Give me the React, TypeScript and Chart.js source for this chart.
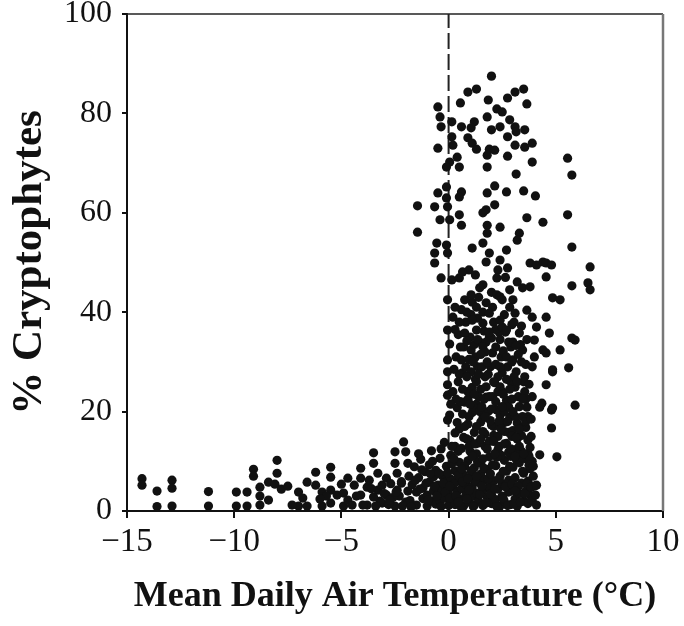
import React, { useEffect, useRef } from "react";
import { Chart, registerables } from "chart.js";

Chart.register(...registerables);

// [temperature °C, % cryptophytes]
const coldPoints: [number, number][] = [
  [-14.3, 6.5], [-14.3, 5.2], [-13.6, 4.0], [-13.6, 0.9], [-12.9, 6.2], [-12.9, 4.6], [-12.9, 1.0],
  [-11.2, 3.9], [-11.2, 1.0], [-9.9, 3.8], [-9.9, 1.0], [-9.4, 3.8], [-9.4, 1.0], [-9.1, 8.4], [-9.1, 7.0],
  [-8.8, 4.8], [-8.8, 3.0], [-8.8, 1.2], [-8.4, 5.8], [-8.4, 2.2], [-8.0, 10.2], [-8.0, 7.6], [-8.1, 5.4],
  [-7.8, 4.4], [-7.0, 3.8], [-7.0, 1.0], [-6.6, 5.8], [-6.6, 1.0], [-6.2, 7.8], [-6.2, 5.2], [-5.9, 3.8],
  [-5.9, 1.0], [-5.5, 8.8], [-5.5, 6.8], [-5.5, 4.2], [-5.5, 1.6], [-5.2, 3.2], [-4.9, 3.6], [-4.9, 1.0],
  [-4.7, 6.6], [-4.7, 2.2], [-4.4, 5.2], [-4.1, 8.6], [-4.1, 6.6], [-4.1, 3.2], [-3.8, 4.8], [-3.8, 1.2],
  [-3.5, 11.7], [-3.5, 9.6], [-3.3, 7.6], [-3.3, 4.2], [-3.1, 5.2], [-3.1, 1.6], [-2.9, 6.6], [-2.9, 3.2],
  [-2.5, 11.9], [-2.5, 9.6], [-2.5, 1.0], [-2.4, 7.6], [-2.4, 4.2], [-2.2, 5.6], [-2.1, 13.9], [-2.0, 11.9],
  [-1.9, 9.6], [-2.3, 3.0], [-2.2, 5.9], [-2.0, 1.8], [-1.9, 4.0], [-2.6, 2.7], [-2.7, 5.5], [-2.8, 1.3],
  [-3.0, 3.5], [-3.2, 2.0], [-3.5, 2.8], [-3.7, 6.2], [-4.3, 3.0], [-4.5, 1.2], [-5.0, 5.4], [-5.7, 3.0],
  [-6.0, 2.4], [-6.8, 2.6], [-7.3, 1.2], [-7.5, 5.0], [-4.0, 1.2], [-2.45, 3.8], [-2.15, 1.0],
  [-1.85, 7.0], [-2.75, 2.2], [-3.4, 1.0], [-3.6, 4.5],
];

const densePoints: [number, number][] = [
  [-1.8, 2.1], [-1.7, 5.3], [-1.6, 8.9], [-1.5, 1.2], [-1.5, 3.8], [-1.4, 6.7], [-1.3, 10.4], [-1.2, 2.5],
  [-1.2, 4.6], [-1.1, 7.9], [-1.0, 1.0], [-1.0, 3.2], [-0.9, 5.8], [-0.9, 9.3], [-0.8, 12.1], [-0.8, 2.0],
  [-0.7, 4.1], [-0.7, 6.9], [-0.6, 1.4], [-0.6, 8.2], [-0.5, 3.5], [-0.5, 5.2], [-0.4, 10.6], [-0.4, 1.9],
  [-0.3, 4.4], [-0.3, 7.1], [-0.2, 2.6], [-0.2, 13.8], [-0.1, 5.9], [-0.1, 9.0], [0.0, 1.1], [0.0, 3.4],
  [0.1, 6.4], [0.1, 11.2], [0.2, 2.2], [0.2, 4.8], [0.3, 8.1], [0.3, 1.3], [0.4, 3.9], [0.4, 6.0],
  [0.5, 9.8], [0.5, 2.4], [0.6, 12.6], [0.6, 4.5], [0.7, 1.0], [0.7, 7.3], [0.8, 3.1], [0.8, 5.4],
  [0.9, 10.1], [0.9, 1.8], [1.0, 6.6], [1.0, 14.2], [1.1, 2.9], [1.1, 4.9], [1.2, 8.7], [1.2, 1.2],
  [1.3, 3.6], [1.3, 11.5], [1.4, 5.8], [1.4, 2.0], [1.5, 7.4], [1.5, 9.6], [1.6, 1.1], [1.6, 4.2],
  [1.7, 6.3], [1.7, 13.0], [1.8, 2.7], [1.8, 8.4], [1.9, 4.8], [1.9, 10.9], [2.0, 1.5], [2.0, 3.3],
  [2.1, 6.1], [2.1, 15.2], [2.2, 2.3], [2.2, 9.1], [2.3, 4.4], [2.3, 12.3], [2.4, 1.0], [2.4, 7.0],
  [2.5, 3.0], [2.5, 5.5], [2.6, 10.2], [2.6, 1.9], [2.7, 8.0], [2.7, 13.6], [2.8, 3.8], [2.8, 6.2],
  [2.9, 1.3], [2.9, 11.0], [3.0, 4.5], [3.0, 8.8], [3.1, 2.4], [3.1, 6.7], [3.2, 14.5], [3.2, 1.0],
  [3.3, 3.5], [3.3, 9.7], [3.4, 5.6], [3.4, 12.0], [3.5, 2.0], [3.5, 7.6], [3.6, 4.0], [3.6, 10.5],
  [3.7, 1.5], [3.7, 6.0], [3.8, 3.2], [3.8, 8.5], [3.9, 2.1], [4.0, 5.0], [4.1, 1.2],
  [-1.75, 0.8], [-1.55, 6.2], [-1.35, 4.4], [-1.25, 8.3], [-1.05, 5.6], [-0.95, 2.2], [-0.75, 10.0],
  [-0.65, 5.0], [-0.55, 3.0], [-0.45, 7.6], [-0.35, 0.9], [-0.25, 5.6], [-0.15, 3.8], [-0.05, 7.7],
  [0.05, 2.6], [0.15, 9.5], [0.25, 5.5], [0.35, 3.0], [0.45, 7.2], [0.55, 1.0], [0.65, 5.9], [0.75, 9.0],
  [0.85, 2.4], [0.95, 4.2], [1.05, 8.1], [1.15, 0.9], [1.25, 6.0], [1.35, 9.9], [1.45, 3.3], [1.55, 5.0],
  [1.65, 8.6], [1.75, 1.6], [1.85, 6.5], [1.95, 3.4], [2.05, 9.3], [2.15, 4.5], [2.25, 0.9], [2.35, 6.4],
  [2.45, 11.2], [2.55, 2.5], [2.65, 4.9], [2.75, 1.1], [2.85, 9.0], [2.95, 5.4], [3.05, 1.4], [3.15, 10.4],
  [3.25, 5.0], [3.35, 1.8], [3.45, 8.0], [3.55, 3.5], [3.65, 5.5], [3.75, 9.2], [3.85, 4.8], [3.95, 7.0],
  [0.3, 13.0], [0.5, 16.5], [0.7, 14.8], [0.9, 17.5], [1.0, 12.0], [1.2, 15.8], [1.4, 13.7], [1.5, 17.9],
  [1.7, 15.5], [1.9, 14.0], [2.1, 17.0], [2.3, 15.0], [2.4, 19.2], [2.6, 17.8], [2.8, 15.8], [3.0, 16.2],
  [3.2, 12.5], [3.4, 15.2], [3.6, 16.8], [3.8, 12.8],
  [0.05, 5.0], [0.25, 10.5], [0.45, 1.8], [0.6, 8.5], [0.9, 6.5], [1.1, 11.0], [1.3, 7.0], [1.6, 10.5],
  [1.95, 7.5], [2.25, 10.8], [2.55, 8.0], [2.8, 11.8], [3.1, 4.0], [3.4, 10.8], [3.7, 11.5], [3.9, 10.0],
  [4.05, 3.2], [-0.85, 7.5], [-1.4, 11.5], [-0.35, 12.5],
];

const lowMidPoints: [number, number][] = [
  [-0.05, 30.4], [-0.05, 28.0], [-0.05, 25.4], [-0.05, 23.3], [0.05, 19.3], [-0.05, 18.3], [0.3, 15.7],
  [0.6, 30.4], [0.65, 27.8], [0.75, 21.9], [1.05, 32.4], [1.1, 24.9], [1.35, 29.0], [1.6, 18.7],
  [1.7, 27.0], [1.75, 22.9], [2.05, 31.8], [2.15, 25.8], [2.25, 20.3], [2.0, 17.3], [2.5, 27.8],
  [2.7, 22.3], [2.85, 18.9], [3.0, 30.4], [3.1, 24.9], [3.2, 17.7], [3.45, 32.4], [3.55, 27.0],
  [3.65, 20.9], [3.7, 14.3], [4.0, 31.0], [4.25, 20.9], [4.4, 32.4], [4.8, 20.3], [4.85, 28.0],
  [4.8, 16.7], [5.05, 10.9], [4.1, 5.2], [4.25, 11.3],
  [1.1, 19.8], [1.3, 21.5], [0.4, 20.8], [0.9, 22.5], [1.5, 24.5], [2.6, 20.0], [3.3, 21.0], [3.9, 23.0],
  [0.2, 24.0], [0.5, 27.5], [1.25, 26.5], [2.4, 25.0], [3.6, 29.5], [2.9, 33.0],
  [0.35, 31.0], [0.45, 26.0], [0.55, 22.0], [0.7, 33.0], [0.8, 29.0], [0.9, 24.0], [0.95, 19.0],
  [1.0, 35.0], [1.05, 28.0], [1.15, 21.0], [1.25, 31.0], [1.3, 26.0], [1.4, 23.0], [1.45, 34.0],
  [1.55, 29.0], [1.6, 16.0], [1.7, 32.0], [1.75, 25.0], [1.85, 20.0], [1.9, 35.0], [1.95, 29.0],
  [2.05, 23.0], [2.1, 14.0], [2.2, 33.0], [2.3, 27.0], [2.35, 18.0], [2.45, 31.0], [2.5, 24.0],
  [2.6, 16.0], [2.65, 36.0], [2.75, 29.0], [2.8, 21.0], [2.9, 26.0], [2.95, 15.0], [3.0, 34.0],
  [3.1, 19.0], [3.15, 28.0], [3.25, 23.0], [3.3, 13.0], [3.4, 30.0], [3.5, 17.0], [3.55, 24.0],
  [3.7, 19.0], [3.75, 11.0], [3.85, 15.0], [3.95, 9.0],
  [0.45, 35.5], [0.6, 40.5], [0.95, 30.5], [1.2, 33.5], [1.35, 38.8], [1.5, 31.5], [1.65, 36.2],
  [1.8, 30.0], [2.0, 34.8], [2.1, 38.0], [2.2, 29.5], [2.35, 36.0], [2.55, 32.2], [2.6, 39.5],
  [2.8, 34.0], [2.95, 37.5], [3.05, 27.0], [3.25, 31.5], [3.4, 37.2], [3.5, 26.0], [0.4, 17.8],
  [0.65, 19.5], [0.85, 14.5], [1.3, 17.0], [1.45, 20.0], [1.65, 22.5], [1.95, 18.2], [2.2, 22.0],
  [2.5, 21.0], [2.7, 26.5], [2.95, 22.5], [3.15, 14.8], [3.45, 19.0], [3.6, 22.5], [1.1, 42.0],
  [1.6, 45.5], [2.0, 44.0], [2.65, 47.0], [0.95, 48.5], [1.25, 47.5],
];

const coreFill: [number, number][] = [
  [0.25, 28.5], [0.35, 22.5], [0.45, 12.0], [0.55, 33.0], [0.65, 24.5], [0.75, 17.0], [0.8, 38.0],
  [0.85, 27.0], [0.95, 13.0], [1.0, 21.5], [1.05, 39.5], [1.15, 30.0], [1.2, 23.5], [1.25, 13.5],
  [1.35, 34.5], [1.4, 27.5], [1.5, 14.5], [1.55, 21.0], [1.6, 40.0], [1.7, 19.0], [1.75, 34.0],
  [1.8, 12.5], [1.85, 27.5], [1.9, 23.0], [2.0, 20.5], [2.05, 41.0], [2.1, 26.0], [2.15, 11.5],
  [2.2, 36.5], [2.3, 24.0], [2.35, 13.0], [2.4, 29.0], [2.45, 16.5], [2.5, 37.0], [2.55, 23.5],
  [2.6, 13.5], [2.7, 31.0], [2.75, 18.0], [2.85, 24.5], [2.9, 12.5], [2.95, 30.0], [3.0, 20.0],
  [3.05, 38.0], [3.1, 11.0], [3.2, 26.0], [3.3, 16.5], [3.35, 33.5], [3.45, 22.5], [3.5, 11.5],
  [3.6, 18.0], [3.65, 34.5], [3.75, 25.5], [3.85, 18.5], [3.9, 29.0], [0.15, 13.0], [0.3, 36.5],
  [0.1, 21.5], [2.25, 43.5], [1.4, 43.0], [3.0, 42.5],
];

const midPoints: [number, number][] = [
  [-1.45, 56.1], [-0.4, 58.6], [0.05, 58.6], [0.5, 59.6], [0.6, 57.5], [1.6, 60.0], [1.8, 57.5],
  [2.4, 57.1], [3.65, 59.0], [3.3, 55.9], [3.2, 54.5], [1.8, 55.9], [-0.55, 53.9], [-0.1, 53.5],
  [-0.65, 51.9], [-0.05, 51.9], [-0.65, 49.9], [1.1, 52.9], [1.6, 53.9], [1.9, 51.9], [1.75, 50.1],
  [2.4, 50.5], [2.7, 52.5], [2.75, 48.9], [2.3, 48.5], [3.8, 49.9], [4.1, 49.5], [4.4, 50.1],
  [-0.35, 46.9], [0.15, 46.5], [0.5, 46.9], [0.65, 48.1], [1.45, 44.9], [2.25, 46.9], [2.4, 43.1],
  [3.2, 46.1], [3.45, 44.9], [3.8, 45.1], [2.85, 44.5], [-0.05, 42.5], [0.3, 41.0], [0.75, 42.5],
  [1.05, 43.5], [0.85, 40.0], [1.3, 41.0], [1.75, 41.9], [1.9, 39.8], [2.5, 42.5], [2.85, 41.0],
  [3.1, 39.8], [3.65, 40.4], [3.9, 39.0], [0.2, 39.0], [0.5, 38.0], [1.1, 38.4], [1.6, 37.8],
  [2.4, 38.4], [-0.05, 36.4], [0.75, 35.8], [1.3, 36.4], [1.9, 36.0], [2.7, 36.4], [3.3, 35.8],
  [4.1, 37.0], [0.05, 33.6], [0.85, 34.2], [1.6, 33.1], [2.4, 34.5], [3.15, 33.3], [4.0, 34.4],
];

const upperPoints: [number, number][] = [
  [2.0, 87.5], [0.9, 84.3], [1.3, 84.9], [3.1, 84.3], [3.5, 84.9], [2.75, 83.1], [0.55, 82.1],
  [1.85, 82.7], [3.65, 81.9], [-0.5, 81.3], [-0.4, 79.3], [2.25, 80.9], [1.8, 79.3], [2.5, 80.3],
  [2.85, 78.7], [0.15, 78.3], [0.6, 77.3], [-0.35, 77.3], [1.2, 78.3], [1.05, 77.1], [2.0, 76.7],
  [2.4, 77.3], [3.1, 77.3], [3.15, 76.3], [3.55, 76.7], [0.15, 75.3], [0.9, 75.1], [2.75, 75.3],
  [3.9, 74.0], [1.1, 74.0], [3.1, 73.6], [3.55, 73.2], [0.2, 73.6], [-0.5, 73.0], [1.3, 72.8],
  [1.9, 72.8], [2.15, 72.6], [0.4, 71.2], [1.8, 71.6], [2.75, 71.4], [0.05, 70.2], [3.9, 70.2],
  [-0.1, 69.2], [1.8, 69.2], [0.5, 69.2], [3.15, 67.8], [-0.1, 65.2], [2.15, 65.4], [2.7, 64.2],
  [3.5, 64.4], [1.8, 64.0], [-0.5, 64.0], [0.6, 64.2], [0.5, 63.2], [4.05, 63.4], [-0.1, 63.0],
  [-1.45, 61.4], [-0.65, 61.2], [-0.05, 61.2], [2.15, 61.6], [1.75, 60.6],
];

const warmPoints: [number, number][] = [
  [5.55, 71.0], [5.75, 67.6], [5.55, 59.6], [4.4, 58.1], [5.75, 53.1], [6.6, 49.1], [4.55, 49.9],
  [4.8, 49.5], [4.55, 47.1], [5.75, 45.3], [6.5, 45.9], [6.6, 44.5], [4.85, 42.9], [5.2, 42.5],
  [4.55, 39.0], [4.7, 35.8], [5.75, 34.8], [5.9, 34.4], [5.2, 32.4], [4.55, 31.8], [4.85, 28.4],
  [5.6, 28.8], [4.55, 25.4], [4.35, 21.7], [4.85, 20.7], [5.9, 21.3],
];

const xTicks = [-15, -10, -5, 0, 5, 10];
const yTicks = [0, 20, 40, 60, 80, 100];
const thresholdX = [0, 0];
const thresholdY = [0, 100];

const allPoints = [
  ...coldPoints,
  ...densePoints,
  ...lowMidPoints,
  ...coreFill,
  ...midPoints,
  ...upperPoints,
  ...warmPoints,
].map(([x, y]) => ({ x, y }));

const INK = "#111111";
const SERIF = "'Liberation Serif', 'Times New Roman', serif";

const framePlugin = {
  id: "frame",
  afterDraw(chart: any) {
    const { ctx, chartArea } = chart;
    ctx.save();
    ctx.strokeStyle = "#222";
    ctx.lineWidth = 1.5;
    ctx.beginPath();
    ctx.moveTo(chartArea.left, chartArea.top);
    ctx.lineTo(chartArea.right, chartArea.top);
    ctx.stroke();
    ctx.strokeStyle = "#777";
    ctx.lineWidth = 2.5;
    ctx.beginPath();
    ctx.moveTo(chartArea.right, chartArea.top);
    ctx.lineTo(chartArea.right, chartArea.bottom);
    ctx.stroke();
    ctx.restore();
  },
};

export default function App() {
  const ref = useRef<HTMLCanvasElement>(null);

  useEffect(() => {
    document.body.style.margin = "0";
    const canvas = ref.current;
    if (!canvas) return;
    const chart = new Chart(canvas, {
      type: "scatter",
      data: {
        datasets: [
          {
            data: allPoints,
            pointRadius: 4.6,
            pointBackgroundColor: INK,
            pointBorderWidth: 0,
            showLine: false,
            order: 1,
          },
          {
            data: thresholdX.map((x, i) => ({ x, y: thresholdY[i] })),
            showLine: true,
            borderColor: "#222",
            borderWidth: 2,
            borderDash: [16, 5],
            pointRadius: 0,
            order: 2,
          } as any,
        ],
      },
      options: {
        animation: false,
        responsive: false,
        devicePixelRatio: 1,
        layout: { padding: { top: 14, right: 21, left: 0, bottom: 0 } },
        plugins: { legend: { display: false }, tooltip: { enabled: false } },
        scales: {
          x: {
            type: "linear",
            min: -15,
            max: 10,
            afterFit: (s: any) => {
              s.height = 115;
              s.paddingLeft = 0;
              s.paddingRight = 0;
            },
            afterBuildTicks: (s: any) => {
              s.ticks = xTicks.map((v) => ({ value: v }));
            },
            ticks: {
              color: INK,
              font: { family: SERIF, size: 33 },
              padding: 5,
              maxRotation: 0,
              callback: (v: any) => (Number(v) < 0 ? "\u2212" + Math.abs(Number(v)) : String(v)),
            },
            grid: { drawOnChartArea: false, drawTicks: true, tickLength: 7, color: INK, lineWidth: 2 },
            border: { display: true, color: INK, width: 2 },
            title: {
              display: true,
              text: "Mean Daily Air Temperature (°C)",
              color: INK,
              font: { family: SERIF, size: 36, weight: "bold" },
              padding: { top: 0, bottom: 8 },
            },
          },
          y: {
            type: "linear",
            min: 0,
            max: 100,
            afterFit: (s: any) => {
              s.width = 127;
              s.paddingTop = 0;
              s.paddingBottom = 0;
            },
            afterBuildTicks: (s: any) => {
              s.ticks = yTicks.map((v) => ({ value: v }));
            },
            ticks: {
              color: INK,
              font: { family: SERIF, size: 32 },
              padding: 10,
            },
            grid: { drawOnChartArea: false, drawTicks: true, tickLength: 5, color: INK, lineWidth: 2 },
            border: { display: true, color: INK, width: 2 },
            title: {
              display: true,
              text: "% Cryptophytes",
              color: INK,
              font: { family: SERIF, size: 43, weight: "bold" },
              padding: { top: 4, bottom: 0 },
            },
          },
        },
      },
      plugins: [framePlugin],
    } as any);
    return () => chart.destroy();
  }, []);

  return (
    <div style={{ width: 684, height: 626, background: "#fff" }}>
      <canvas ref={ref} width={684} height={626} />
    </div>
  );
}
